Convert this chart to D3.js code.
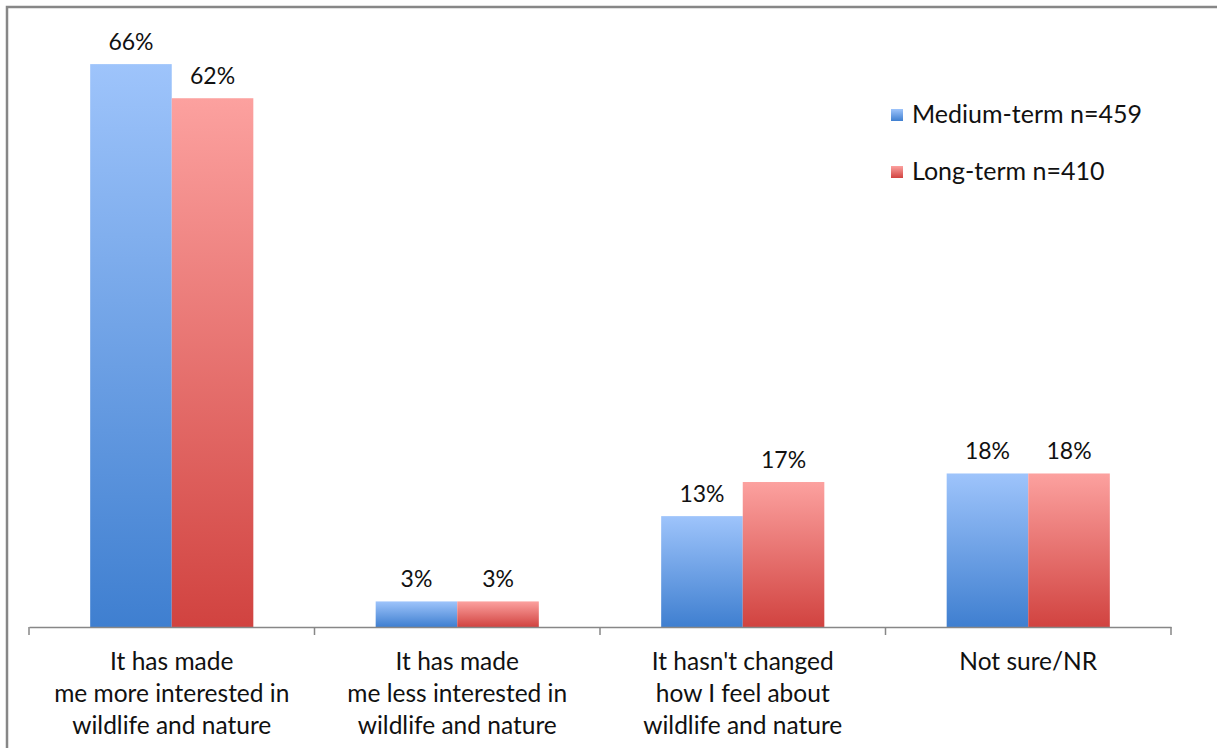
<!DOCTYPE html>
<html>
<head>
<meta charset="utf-8">
<script src="https://cdn.jsdelivr.net/npm/d3@7"></script>
<style>
  body { margin: 0; background: white; }
  text { font-family: Lato, "Open Sans", sans-serif; fill: #111; }
</style>
</head>
<body>
<div id="vis1"></div>
<script>
// chart data
let categories = [
  ["It has made", "me more interested in", "wildlife and nature"],
  ["It has made", "me less interested in", "wildlife and nature"],
  ["It hasn't changed", "how I feel about", "wildlife and nature"],
  ["Not sure/NR"]
];
let seriesNames = ["Medium-term n=459", "Long-term n=410"];
let mediumTerm = [66, 3, 13, 18];
let longTerm = [62, 3, 17, 18];

let W = 1217, H = 748;
let margin = { top: 30, left: 29, right: 46, bottom: 121 };

let svg = d3.select('#vis1')
  .append('svg')
  .attr('width', W)
  .attr('height', H);

// outer frame
svg.append('rect')
  .attr('x', 7).attr('y', 7)
  .attr('width', W + 20).attr('height', H + 20)
  .attr('fill', 'none')
  .attr('stroke', '#878787')
  .attr('stroke-width', 2.5);

let defs = svg.append('defs');
let grads = [["blueGrad", "#9ec4fb", "#3f7fd0"], ["redGrad", "#fca19f", "#d14340"]];
grads.forEach(g => {
  let lg = defs.append('linearGradient').attr('id', g[0])
    .attr('x1', 0).attr('y1', 0).attr('x2', 0).attr('y2', 1);
  lg.append('stop').attr('offset', '0%').attr('stop-color', g[1]);
  lg.append('stop').attr('offset', '100%').attr('stop-color', g[2]);
});

let idx = d3.range(categories.length);
let x = d3.scaleBand().domain(idx).range([margin.left, W - margin.right]).paddingInner(0).paddingOuter(0);
let inner = d3.scaleBand().domain([0, 1]).range([0, x.bandwidth()]).paddingOuter(0.75).paddingInner(0);
let y = d3.scaleLinear().domain([0, 70]).range([H - margin.bottom, margin.top]);

let rows = [];
idx.forEach(i => {
  rows.push({ c: i, s: 0, v: mediumTerm[i] });
  rows.push({ c: i, s: 1, v: longTerm[i] });
});

svg.append('g')
  .selectAll('rect')
  .data(rows)
  .join('rect')
  .attr('x', d => x(d.c) + inner(d.s))
  .attr('y', d => y(d.v))
  .attr('width', inner.bandwidth())
  .attr('height', d => y(0) - y(d.v))
  .attr('fill', d => d.s === 0 ? 'url(#blueGrad)' : 'url(#redGrad)');

svg.append('g')
  .selectAll('text')
  .data(rows)
  .join('text')
  .attr('x', d => x(d.c) + inner(d.s) + inner.bandwidth() / 2)
  .attr('y', d => y(d.v) - 14)
  .attr('text-anchor', 'middle')
  .style('font-size', '23px')
  .text(d => d.v + '%');

// axis
let axis = svg.append('g')
  .attr('transform', `translate(0, ${y(0)})`)
  .call(d3.axisBottom(x).tickSize(0).tickFormat(''));
axis.select('.domain').attr('stroke', '#878787').attr('stroke-width', 1.5);
axis.selectAll('.tick').remove();

let tickPos = idx.map(i => x(i)).concat([x(idx[idx.length - 1]) + x.bandwidth()]);
axis.selectAll('line.tk')
  .data(tickPos)
  .join('line')
  .attr('class', 'tk')
  .attr('x1', d => d).attr('x2', d => d)
  .attr('y1', 0).attr('y2', 8)
  .attr('stroke', '#878787').attr('stroke-width', 1.5);

let labels = svg.append('g');
idx.forEach(i => {
  let t = labels.append('text')
    .attr('x', x(i) + x.bandwidth() / 2)
    .attr('y', 670)
    .attr('text-anchor', 'middle')
    .style('font-size', '24.5px');
  categories[i].forEach((line, k) => {
    t.append('tspan')
      .attr('x', x(i) + x.bandwidth() / 2)
      .attr('dy', k === 0 ? 0 : 32)
      .text(line);
  });
});

// legend
let legend = svg.append('g').attr('transform', 'translate(891, 109)');
seriesNames.forEach((name, i) => {
  legend.append('rect')
    .attr('x', 0).attr('y', i * 57)
    .attr('width', 12).attr('height', 12)
    .attr('fill', i === 0 ? 'url(#blueGrad)' : 'url(#redGrad)');
  legend.append('text')
    .attr('x', 21).attr('y', i * 57 + 14)
    .style('font-size', '25px')
    .text(name);
});
</script>
</body>
</html>
